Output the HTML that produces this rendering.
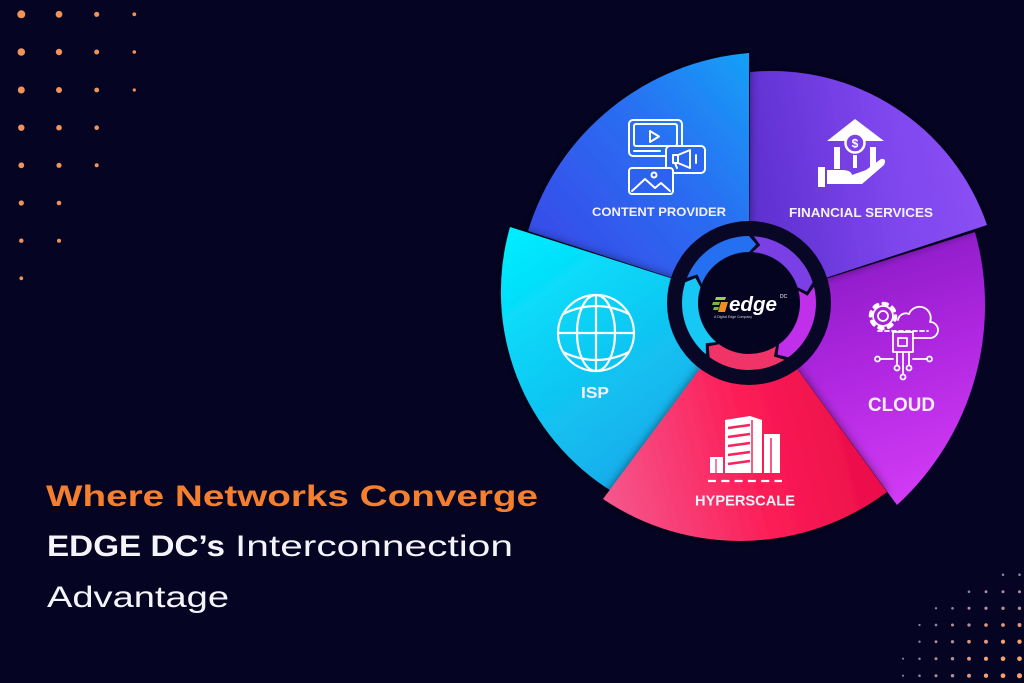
<!DOCTYPE html>
<html>
<head>
<meta charset="utf-8">
<style>
  html,body{margin:0;padding:0;background:#050423;}
  svg{display:block;}
  text{font-family:"Liberation Sans", Arial, sans-serif;}
</style>
</head>
<body>
<svg width="1024" height="683" viewBox="0 0 1024 683" xmlns="http://www.w3.org/2000/svg">
  <defs>
    <filter id="sh" x="-20%" y="-20%" width="140%" height="140%">
      <feDropShadow dx="0" dy="0" stdDeviation="5" flood-color="#000010" flood-opacity="0.55"/>
    </filter>
    <linearGradient id="gBlue" gradientUnits="userSpaceOnUse" x1="760" y1="60" x2="560" y2="235">
      <stop offset="0" stop-color="#15a2f7"/>
      <stop offset="0.5" stop-color="#2a6ef2"/>
      <stop offset="1" stop-color="#3550ea"/>
    </linearGradient>
    <linearGradient id="gPurple" gradientUnits="userSpaceOnUse" x1="755" y1="200" x2="990" y2="160">
      <stop offset="0" stop-color="#5f30d0"/>
      <stop offset="0.55" stop-color="#7d45ec"/>
      <stop offset="1" stop-color="#8c52f6"/>
    </linearGradient>
    <linearGradient id="gMag" gradientUnits="userSpaceOnUse" x1="850" y1="240" x2="935" y2="500">
      <stop offset="0" stop-color="#8a1ac6"/>
      <stop offset="0.5" stop-color="#b228e2"/>
      <stop offset="1" stop-color="#d43cf6"/>
    </linearGradient>
    <linearGradient id="gPink" gradientUnits="userSpaceOnUse" x1="610" y1="510" x2="885" y2="440">
      <stop offset="0" stop-color="#f5568c"/>
      <stop offset="0.55" stop-color="#fc1c56"/>
      <stop offset="1" stop-color="#e80c48"/>
    </linearGradient>
    <linearGradient id="gCyan" gradientUnits="userSpaceOnUse" x1="520" y1="230" x2="690" y2="470">
      <stop offset="0" stop-color="#00ecff"/>
      <stop offset="0.5" stop-color="#10c8f3"/>
      <stop offset="1" stop-color="#1aa6ea"/>
    </linearGradient>
  </defs>

  <rect x="0" y="0" width="1024" height="683" fill="#050423"/>

  <!-- top-left dots -->
  <g fill="#f0935b">
    <circle cx="21.3" cy="14.3" r="4.0"/><circle cx="59" cy="14.3" r="3.4"/><circle cx="96.7" cy="14.3" r="2.6"/><circle cx="134.3" cy="14.3" r="1.9"/>
    <circle cx="21.3" cy="52" r="3.8"/><circle cx="59" cy="52" r="3.2"/><circle cx="96.7" cy="52" r="2.5"/><circle cx="134.3" cy="52" r="1.8"/>
    <circle cx="21.3" cy="90" r="3.5"/><circle cx="59" cy="90" r="3.0"/><circle cx="96.7" cy="90" r="2.4"/><circle cx="134.3" cy="90" r="1.6"/>
    <circle cx="21.3" cy="127.7" r="3.2"/><circle cx="59" cy="127.7" r="2.8"/><circle cx="96.7" cy="127.7" r="2.3"/>
    <circle cx="21.3" cy="165.3" r="2.9"/><circle cx="59" cy="165.3" r="2.6"/><circle cx="96.7" cy="165.3" r="2.0"/>
    <circle cx="21.3" cy="203" r="2.6"/><circle cx="59" cy="203" r="2.3"/>
    <circle cx="21.3" cy="240.7" r="2.2"/><circle cx="59" cy="240.7" r="2.0"/>
    <circle cx="21.3" cy="278.3" r="1.9"/>
  </g>

  <!-- bottom-right dots -->
  <g>
    <circle cx="1003" cy="574.7" r="1.26" fill="#8c82b0"/><circle cx="1019.5" cy="574.7" r="1.28" fill="#8c82b0"/>
    <circle cx="969" cy="591.7" r="1.32" fill="#8c82b0"/><circle cx="986" cy="591.7" r="1.41" fill="#b88c9e"/><circle cx="1003" cy="591.7" r="1.48" fill="#b88c9e"/><circle cx="1019.5" cy="591.7" r="1.5" fill="#b88c9e"/>
    <circle cx="936" cy="608.3" r="1.19" fill="#8c82b0"/><circle cx="952.5" cy="608.3" r="1.35" fill="#8c82b0"/><circle cx="969" cy="608.3" r="1.5" fill="#b88c9e"/><circle cx="986" cy="608.3" r="1.62" fill="#b88c9e"/><circle cx="1003" cy="608.3" r="1.69" fill="#b88c9e"/><circle cx="1019.5" cy="608.3" r="1.72" fill="#b88c9e"/>
    <circle cx="919.5" cy="625" r="1.12" fill="#8c82b0"/><circle cx="936" cy="625" r="1.32" fill="#8c82b0"/><circle cx="952.5" cy="625" r="1.5" fill="#b88c9e"/><circle cx="969" cy="625" r="1.67" fill="#b88c9e"/><circle cx="986" cy="625" r="1.81" fill="#e0967f"/><circle cx="1003" cy="625" r="1.9" fill="#e0967f"/><circle cx="1019.5" cy="625" r="1.94" fill="#e0967f"/>
    <circle cx="919.5" cy="641.7" r="1.21" fill="#8c82b0"/><circle cx="936" cy="641.7" r="1.41" fill="#b88c9e"/><circle cx="952.5" cy="641.7" r="1.62" fill="#b88c9e"/><circle cx="969" cy="641.7" r="1.81" fill="#e0967f"/><circle cx="986" cy="641.7" r="1.98" fill="#e0967f"/><circle cx="1003" cy="641.7" r="2.11" fill="#f5a070"/><circle cx="1019.5" cy="641.7" r="2.16" fill="#f5a070"/>
    <circle cx="903" cy="658.7" r="1.04" fill="#8c82b0"/><circle cx="919.5" cy="658.7" r="1.26" fill="#8c82b0"/><circle cx="936" cy="658.7" r="1.48" fill="#b88c9e"/><circle cx="952.5" cy="658.7" r="1.69" fill="#b88c9e"/><circle cx="969" cy="658.7" r="1.9" fill="#e0967f"/><circle cx="986" cy="658.7" r="2.11" fill="#f5a070"/><circle cx="1003" cy="658.7" r="2.29" fill="#f5a070"/><circle cx="1019.5" cy="658.7" r="2.38" fill="#f5a070"/>
    <circle cx="903" cy="675.7" r="1.06" fill="#8c82b0"/><circle cx="919.5" cy="675.7" r="1.28" fill="#8c82b0"/><circle cx="936" cy="675.7" r="1.5" fill="#b88c9e"/><circle cx="952.5" cy="675.7" r="1.72" fill="#b88c9e"/><circle cx="969" cy="675.7" r="1.94" fill="#e0967f"/><circle cx="986" cy="675.7" r="2.16" fill="#f5a070"/><circle cx="1003" cy="675.7" r="2.38" fill="#f5a070"/><circle cx="1019.5" cy="675.7" r="2.6" fill="#f5a070"/>
  </g>

  <!-- Pie segments (order: magenta, purple, blue, cyan, pink) -->
  <path d="M749,303 L975,232 A271,271 0 0 1 897,505 Z" fill="url(#gMag)"/>
  <path d="M749,303 L750,72 A228,228 0 0 1 987,225 Z" fill="url(#gPurple)" filter="url(#sh)"/>
  <path d="M749,303 L749,53 A253,253 0 0 0 528,231 Z" fill="url(#gBlue)" filter="url(#sh)"/>
  <path d="M749,303 L613,492 A235,235 0 0 1 510,227 Z" fill="url(#gCyan)" filter="url(#sh)"/>
  <path d="M749,303 L887,492 A245,245 0 0 1 603,499 Z" fill="url(#gPink)" filter="url(#sh)"/>

  <!-- Center ring -->
  <circle cx="749" cy="303" r="82" fill="#080726"/>
  <path d="M753.7,236.2 A67,67 0 0 1 812.7,282.3 L806.9,291.7 L797.5,287.2 A51,51 0 0 0 752.6,252.1 L760.3,245.1 Z" fill="#7a40e6"/>
  <path d="M814.0,286.8 A67,67 0 0 1 788.4,357.2 L777.6,354.6 L779.0,344.3 A51,51 0 0 0 798.5,290.7 L807.6,295.8 Z" fill="#c030ea"/>
  <path d="M784.5,359.8 A67,67 0 0 1 709.6,357.2 L708.8,346.2 L719.0,344.3 A51,51 0 0 0 776.0,346.3 L773.9,356.5 Z" fill="#f03468"/>
  <path d="M705.9,354.3 A67,67 0 0 1 685.3,282.3 L695.5,278.1 L700.5,287.2 A51,51 0 0 0 716.2,342.1 L705.8,343.2 Z" fill="#18c8f4"/>
  <path d="M686.9,277.9 A67,67 0 0 1 749,236 L756.2,244.4 L749,252 A51,51 0 0 0 701.7,283.9 L697.4,274.4 Z" fill="#2470f0"/>
  <circle cx="749" cy="303" r="50" fill="#050420"/>

  <!-- Logo -->
  <polygon points="716,297 726,297 725,300 715,300" fill="#9ccc5a"/>
  <polygon points="713,302 720,302 719,305 712,305" fill="#6dbb45"/>
  <polygon points="714,307 719,307 718,310 713,310" fill="#6dbb45"/>
  <polygon points="721,302 728,302 725,312 718,312" fill="#f08c22"/>
  <text x="729" y="311" font-size="20" font-weight="bold" font-style="italic" fill="#ffffff" textLength="48" lengthAdjust="spacingAndGlyphs">edge</text>
  <text x="780" y="298" font-size="5" fill="#ffffff">DC</text>
  <text x="714" y="318" font-size="3.6" fill="#cfcfe0" textLength="38" lengthAdjust="spacingAndGlyphs">A Digital Edge Company</text>

  <!-- Content provider icon -->
  <g fill="none" stroke="#ffffff" stroke-width="2" stroke-linecap="round" stroke-linejoin="round">
    <rect x="629" y="120" width="53" height="36" rx="4"/>
    <rect x="634" y="124" width="43" height="22" rx="2"/>
    <line x1="634" y1="151" x2="660" y2="151"/>
    <path d="M650,131 L650,142 L659,136.5 Z"/>
    <rect x="666" y="146" width="39" height="27" rx="4" fill="#2b66f0"/>
    <rect x="673" y="155" width="5" height="8"/>
    <path d="M678,155 L690,150 L690,168 L678,163 Z"/>
    <line x1="696" y1="155" x2="696" y2="163"/>
    <line x1="675" y1="163" x2="677" y2="168"/>
    <rect x="629" y="168" width="44" height="26" rx="3" fill="#2d62ef"/>
    <path d="M632,191 L645,179 L655,188 L661,183 L670,191"/>
    <circle cx="654" cy="175" r="2.5"/>
  </g>
  <text x="592" y="216" font-size="12" font-weight="bold" fill="#f2f0fa" textLength="134" lengthAdjust="spacingAndGlyphs">CONTENT PROVIDER</text>

  <!-- Financial icon -->
  <g fill="#ffffff">
    <polygon points="827,141 855,119 884,141"/>
    <circle cx="855" cy="143" r="9.5" fill="#7a44ea" stroke="#ffffff" stroke-width="2.5"/>
    <text x="855" y="147.5" font-size="12" font-weight="bold" text-anchor="middle" fill="#ffffff">$</text>
    <rect x="834" y="147" width="6" height="22"/>
    <rect x="870" y="147" width="6" height="22"/>
    <rect x="853" y="155" width="4" height="13"/>
    <rect x="818" y="167" width="7" height="20"/>
    <path d="M827,170 L842,170 Q851,170 852,175 L866,170 L881,159 Q887,158 884,165 L862,184 L827,184 Z"/>
  </g>
  <text x="789" y="217" font-size="13" font-weight="bold" fill="#f2f0fa" textLength="144" lengthAdjust="spacingAndGlyphs">FINANCIAL SERVICES</text>

  <!-- Cloud icon -->
  <g fill="none" stroke="#ffffff" stroke-width="1.8" stroke-linecap="round" stroke-linejoin="round">
    <path d="M896,338 H930 A8,8 0 0 0 930,322 A11,11 0 0 0 909,314 A8,8 0 0 0 898,320"/>
    <circle cx="883" cy="316" r="12.5" stroke-width="3.5" stroke-dasharray="4 5.8"/>
    <circle cx="883" cy="316" r="10" fill="#a424da"/>
    <circle cx="883" cy="316" r="5"/>
    <line x1="878" y1="331" x2="928" y2="331" stroke-dasharray="4 3"/>
    <rect x="893" y="332" width="20" height="20" fill="#b02ae0"/>
    <rect x="898" y="338" width="9" height="8"/>
    <line x1="880" y1="359" x2="893" y2="359"/>
    <line x1="913" y1="359" x2="927" y2="359"/>
    <circle cx="877.5" cy="359" r="2.5"/>
    <circle cx="929.5" cy="359" r="2.5"/>
    <line x1="897" y1="352" x2="897" y2="365.5"/>
    <line x1="909" y1="352" x2="909" y2="365.5"/>
    <line x1="903" y1="352" x2="903" y2="374.5"/>
    <circle cx="897" cy="368" r="2.5"/>
    <circle cx="909" cy="368" r="2.5"/>
    <circle cx="903" cy="377" r="2.5"/>
  </g>
  <text x="868" y="411" font-size="19" font-weight="bold" fill="#f2f0fa" textLength="67" lengthAdjust="spacingAndGlyphs">CLOUD</text>

  <!-- Hyperscale icon -->
  <g>
    <polygon points="725,420 750,416 762,420 762,473 725,473" fill="#ffffff"/>
    <g stroke="#f8245c" stroke-width="2.6">
      <line x1="728" y1="428" x2="750" y2="425"/>
      <line x1="728" y1="437" x2="750" y2="434"/>
      <line x1="728" y1="446" x2="750" y2="443"/>
      <line x1="728" y1="455" x2="750" y2="452"/>
      <line x1="728" y1="464" x2="750" y2="461"/>
      <line x1="752" y1="420" x2="752" y2="473" stroke-width="1.5"/>
    </g>
    <rect x="764" y="434" width="16" height="39" fill="#ffffff"/>
    <line x1="771" y1="438" x2="771" y2="473" stroke="#f8245c" stroke-width="1.5"/>
    <rect x="710" y="457" width="13" height="16" fill="#ffffff"/>
    <line x1="716" y1="459" x2="716" y2="473" stroke="#f8245c" stroke-width="1.2"/>
    <line x1="708" y1="481" x2="782" y2="481" stroke="#ffffff" stroke-width="2.2" stroke-dasharray="8 5.3"/>
  </g>
  <text x="695" y="505.5" font-size="15" font-weight="bold" fill="#f2f0fa" textLength="100" lengthAdjust="spacingAndGlyphs">HYPERSCALE</text>

  <!-- ISP globe -->
  <g fill="none" stroke="#ffffff" stroke-width="2.2">
    <circle cx="596" cy="333" r="38"/>
    <ellipse cx="596" cy="333" rx="19" ry="38"/>
    <line x1="596" y1="295" x2="596" y2="371"/>
    <line x1="558" y1="333" x2="634" y2="333"/>
    <path d="M563,314 Q596,298 629,314"/>
    <path d="M563,352 Q596,368 629,352"/>
  </g>
  <text x="581" y="398" font-size="16" font-weight="bold" fill="#f2f0fa" textLength="28" lengthAdjust="spacingAndGlyphs">ISP</text>

  <!-- Headline text -->
  <text x="46" y="506" font-size="29.5" font-weight="bold" fill="#f47f2e" textLength="492" lengthAdjust="spacingAndGlyphs">Where Networks Converge</text>
  <text x="47" y="556" font-size="29.5" font-weight="bold" fill="#f4f4fa" textLength="178" lengthAdjust="spacingAndGlyphs">EDGE DC’s</text>
  <text x="235" y="556" font-size="29.5" fill="#f4f4fa" textLength="278" lengthAdjust="spacingAndGlyphs">Interconnection</text>
  <text x="47" y="607" font-size="29.5" fill="#f4f4fa" textLength="182" lengthAdjust="spacingAndGlyphs">Advantage</text>
</svg>
</body>
</html>
